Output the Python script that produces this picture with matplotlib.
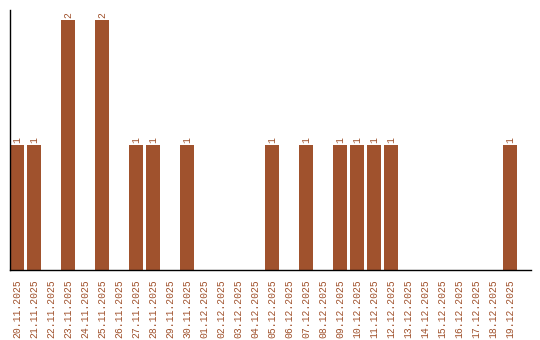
import matplotlib
matplotlib.use("Agg")
import matplotlib.pyplot as plt

dates = ["20.11.2025", "21.11.2025", "22.11.2025", "23.11.2025", "24.11.2025",
         "25.11.2025", "26.11.2025", "27.11.2025", "28.11.2025", "29.11.2025",
         "30.11.2025", "01.12.2025", "02.12.2025", "03.12.2025", "04.12.2025",
         "05.12.2025", "06.12.2025", "07.12.2025", "08.12.2025", "09.12.2025",
         "10.12.2025", "11.12.2025", "12.12.2025", "13.12.2025", "14.12.2025",
         "15.12.2025", "16.12.2025", "17.12.2025", "18.12.2025", "19.12.2025"]
values = [1, 1, 0, 2, 0, 2, 0, 1, 1, 0, 1, 0, 0, 0, 0, 1, 0, 1, 0, 1, 1, 1, 1,
          0, 0, 0, 0, 0, 0, 1]

color = "#A0522D"
fig = plt.figure(figsize=(5.4, 3.4), dpi=100)
ax = fig.add_axes([10/540, 70/340, 521/540, 260/340])
x = list(range(len(dates)))
ax.bar(x, values, width=14/17, color=color)
for xi, v in zip(x, values):
    if v > 0:
        ax.text(xi, v + 0.02, str(v), rotation=90, ha="center", va="bottom",
                color=color, fontsize=7, family="Liberation Mono")
ax.set_xlim(-7/17, 514/17)
ax.set_ylim(0, 2.08)
ax.set_xticks(x)
ax.set_xticklabels(dates, rotation=90, color=color, fontsize=7, family="Liberation Mono")
ax.tick_params(axis="x", length=0, pad=7)
ax.set_yticks([])
ax.spines["top"].set_visible(False)
ax.spines["right"].set_visible(False)
ax.spines["left"].set_linewidth(1)
ax.spines["bottom"].set_linewidth(1)
fig.savefig("out.png", dpi=100)
